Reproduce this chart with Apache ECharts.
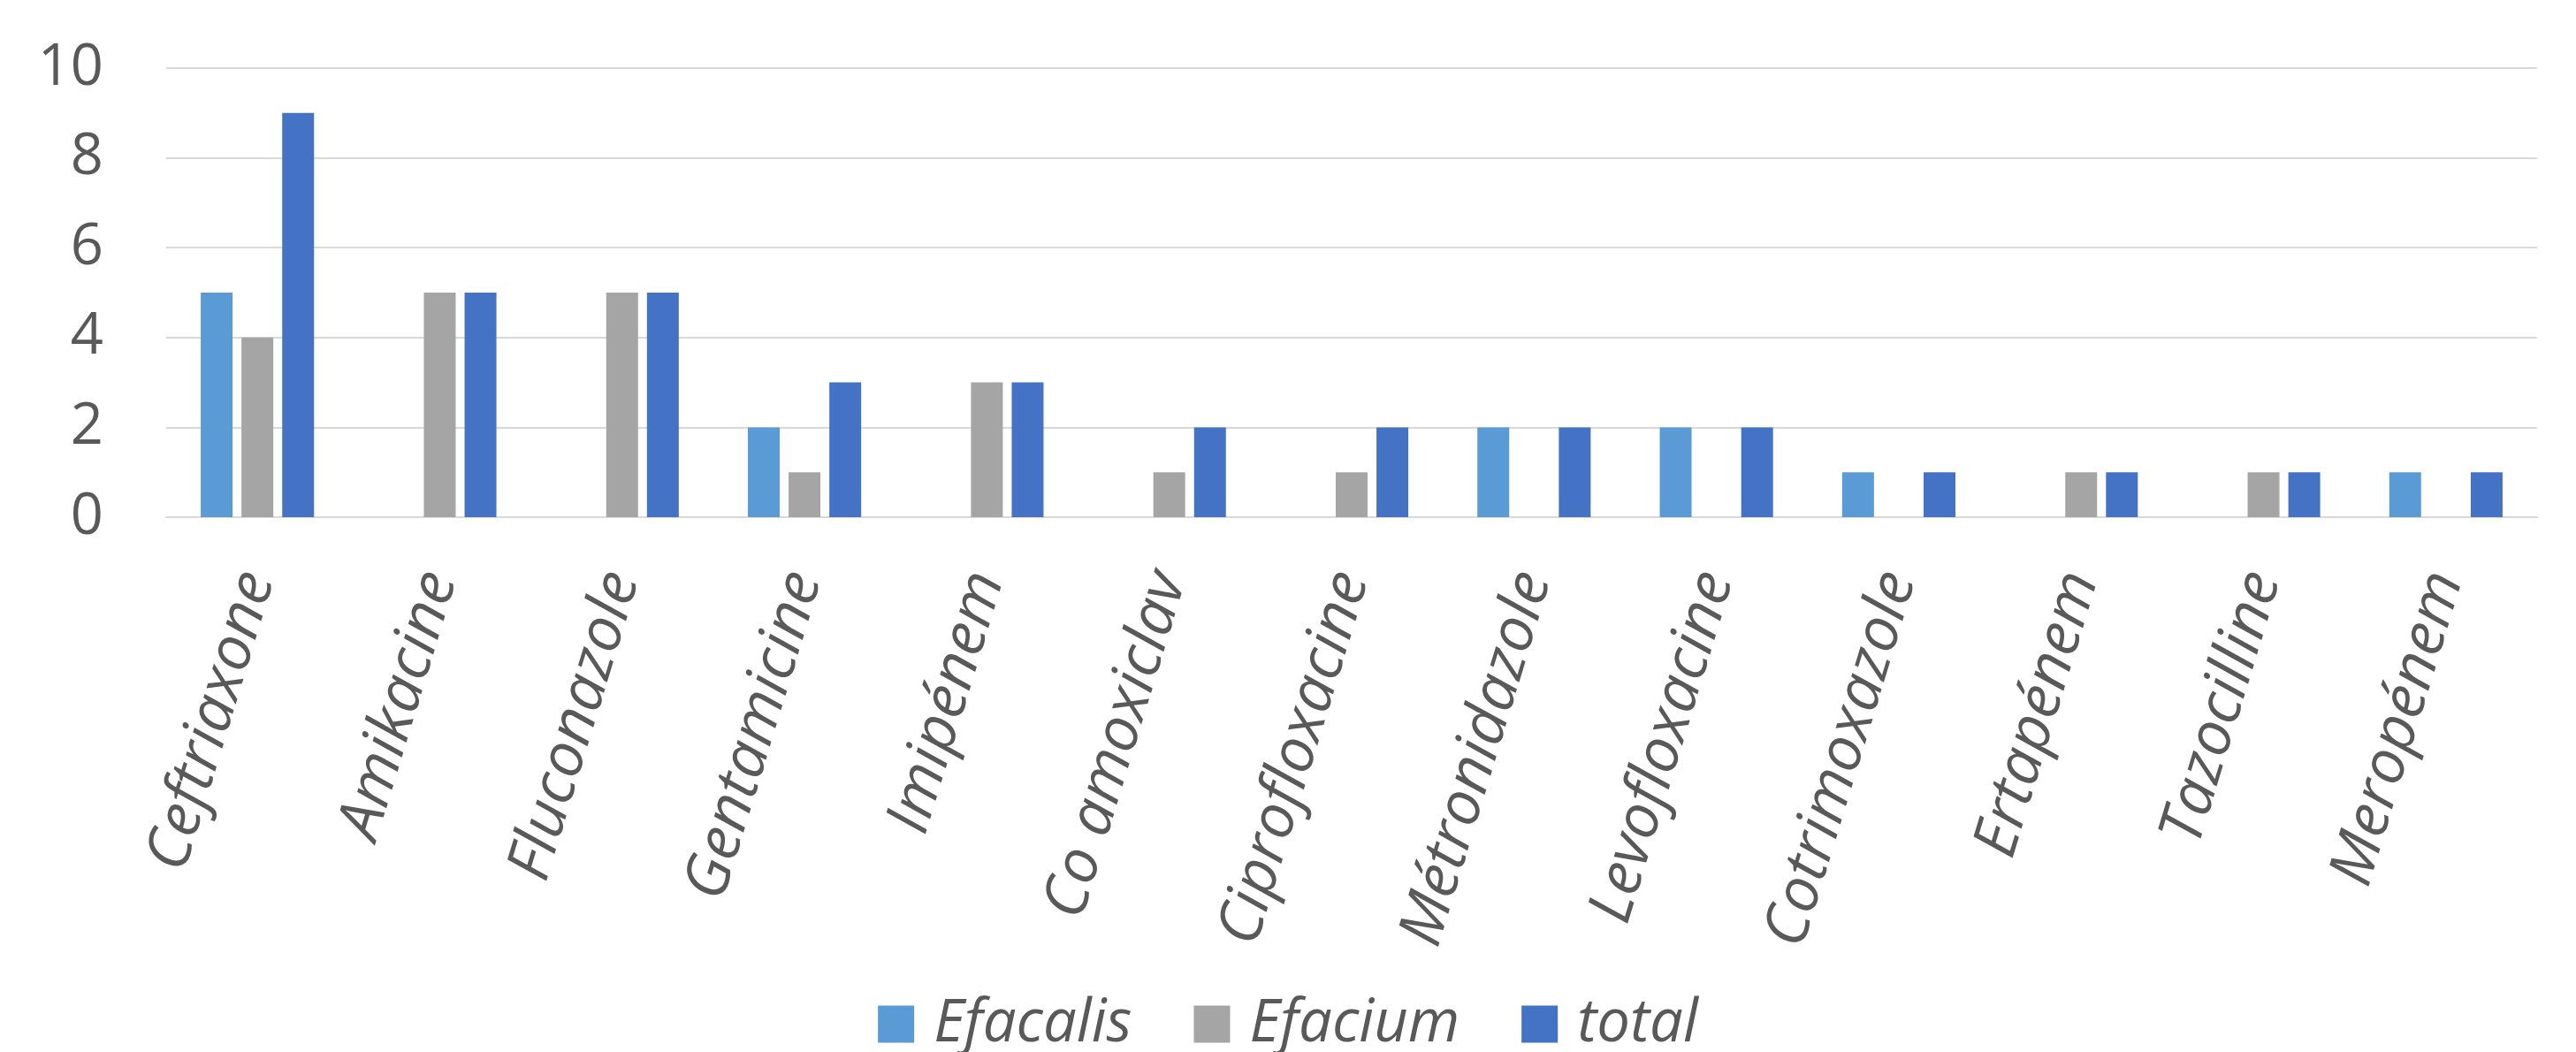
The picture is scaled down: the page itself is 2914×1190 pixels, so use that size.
<!DOCTYPE html>
<html>
<head>
<meta charset="utf-8">
<style>
  html, body { margin: 0; padding: 0; background: #ffffff; }
  #chart { width: 2914px; height: 1190px; }
</style>
<script src="https://cdn.jsdelivr.net/npm/echarts@6/dist/echarts.min.js"></script>
</head>
<body>
<div id="chart"></div>
<script>
// Antibiotic resistance counts per drug
const categories = [
  'Ceftriaxone', 'Amikacine', 'Fluconazole', 'Gentamicine', 'Imipénem',
  'Co amoxiclav', 'Ciprofloxacine', 'Métronidazole', 'Levofloxacine',
  'Cotrimoxazole', 'Ertapénem', 'Tazocilline', 'Meropénem'
];
const efacalis = [5, 0, 0, 2, 0, 0, 0, 2, 2, 1, 0, 0, 1];
const efacium  = [4, 5, 5, 1, 3, 1, 1, 0, 0, 0, 1, 1, 0];
const total    = [9, 5, 5, 3, 3, 2, 2, 2, 2, 1, 1, 1, 1];
const seriesNames = ['Efacalis', 'Efacium', 'total'];
const yTicks = [0, 2, 4, 6, 8, 10];

const textColor = '#595959';
const gridColor = '#D9D9D9';
const font = '"Open Sans", "Noto Sans", sans-serif';

const chart = echarts.init(document.getElementById('chart'), null, { renderer: 'canvas' });

function barSeries(name, data, color) {
  return {
    name: name,
    type: 'bar',
    data: data,
    barWidth: 36,
    barGap: '28%',
    itemStyle: { color: color },
    emphasis: { disabled: true }
  };
}

chart.setOption({
  animation: false,
  backgroundColor: '#ffffff',
  grid: { left: 188, right: 44, top: 77, bottom: 605, containLabel: false },
  legend: {
    data: seriesNames,
    top: 1120,
    left: 'center',
    itemWidth: 41,
    itemHeight: 42,
    itemGap: 70,
    icon: 'rect',
    textStyle: {
      color: textColor,
      fontFamily: font,
      fontStyle: 'italic',
      fontSize: 67,
      padding: [0, 0, 0, 17]
    }
  },
  xAxis: {
    type: 'category',
    data: categories,
    axisLine: { show: true, lineStyle: { color: gridColor, width: 2 } },
    axisTick: { show: false },
    axisLabel: {
      rotate: 73,
      interval: 0,
      margin: 64,
      color: textColor,
      fontFamily: font,
      fontStyle: 'italic',
      fontSize: 69
    }
  },
  yAxis: {
    type: 'value',
    min: yTicks[0],
    max: yTicks[yTicks.length - 1],
    interval: 2,
    axisLine: { show: false },
    axisTick: { show: false },
    splitLine: { lineStyle: { color: gridColor, width: 2 } },
    axisLabel: {
      margin: 71,
      color: textColor,
      fontFamily: font,
      fontSize: 65
    }
  },
  series: [
    barSeries(seriesNames[0], efacalis, '#5B9BD5'),
    barSeries(seriesNames[1], efacium, '#A5A5A5'),
    barSeries(seriesNames[2], total, '#4472C4')
  ]
});
</script>
</body>
</html>
